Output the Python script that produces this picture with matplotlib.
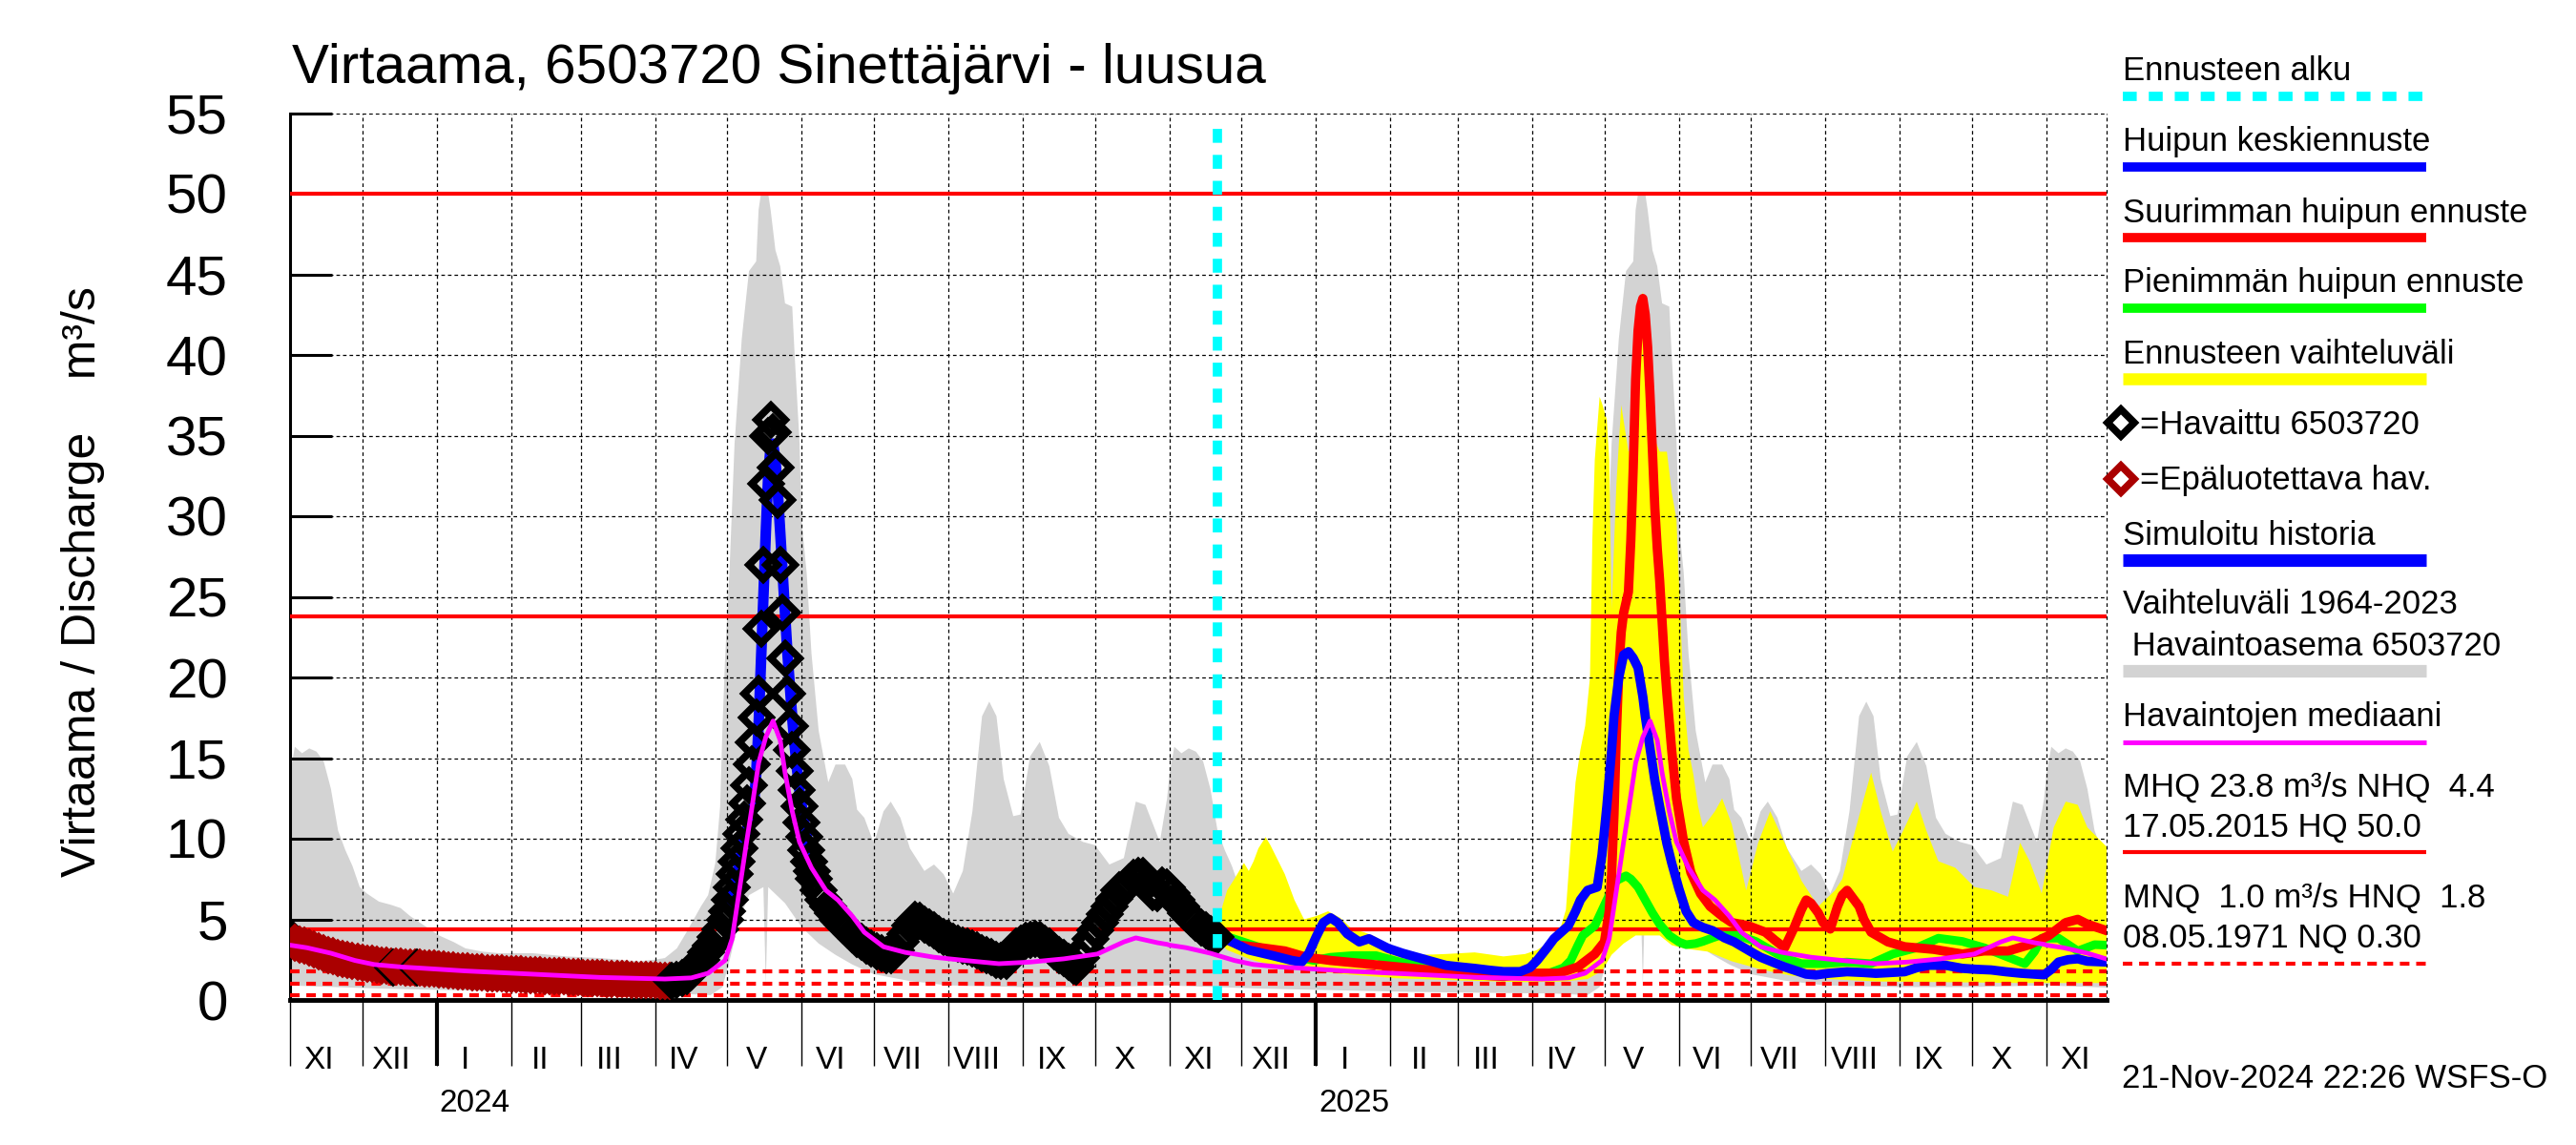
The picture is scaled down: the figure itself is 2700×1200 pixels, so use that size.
import numpy as np
import matplotlib
matplotlib.use("Agg")
import matplotlib.pyplot as plt
import matplotlib.dates as mdates
from matplotlib.lines import Line2D
from matplotlib.transforms import blended_transform_factory

plt.rcParams['font.family'] = ['Liberation Sans', 'DejaVu Sans']

# ---------------- data ----------------
T0 = np.datetime64('2023-11-01')        # day 0 of the day offsets below
T_END = np.datetime64('2025-11-26')
T_FC = np.datetime64('2024-11-21')      # forecast start

title = "Virtaama, 6503720 Sinettäjärvi - luusua"
ylabel = "Virtaama / Discharge    m³/s"
month_labels = ['XI', 'XII', 'I', 'II', 'III', 'IV', 'V', 'VI', 'VII', 'VIII', 'IX', 'X',
                'XI', 'XII', 'I', 'II', 'III', 'IV', 'V', 'VI', 'VII', 'VIII', 'IX', 'X', 'XI']
year_labels = ['2024', '2025']
stamp = "21-Nov-2024 22:26 WSFS-O"

HQ, MHQ, NHQ, HNQ, MNQ, NQ = 50.0, 23.8, 4.4, 1.8, 1.0, 0.30

# climatology 1964-2023 (calendar dates, season Nov..Oct)
clim_max_md = ['11-01', '11-03', '11-06', '11-09', '11-12', '11-15', '11-18', '11-21', '11-24', '11-27',
               '11-30', '12-03', '12-08', '12-13', '12-17', '12-21', '12-25', '12-29', '01-02', '01-08',
               '01-13', '01-20', '01-27', '02-03', '02-10', '02-17', '02-24', '03-02', '03-09', '03-17',
               '03-25', '04-01', '04-05', '04-10', '04-14', '04-17', '04-20', '04-23', '04-26', '04-28',
               '04-29', '04-30', '05-02', '05-04', '05-07', '05-10', '05-13', '05-14', '05-15', '05-18',
               '05-19', '05-21', '05-23', '05-25', '05-28', '05-29', '05-31', '06-01', '06-03', '06-05',
               '06-08', '06-12', '06-15', '06-19', '06-22', '06-24', '06-27', '07-01', '07-05', '07-08',
               '07-12', '07-16', '07-22', '07-26', '07-30', '08-03', '08-07', '08-11', '08-15', '08-18',
               '08-21', '08-24', '08-28', '08-31', '09-04', '09-08', '09-12', '09-16', '09-20', '09-26',
               '10-01', '10-07', '10-13', '10-18', '10-22', '10-28', '10-31']
clim_max = [14.0, 15.7, 15.3, 15.6, 15.4, 14.8, 13.1, 10.5, 9.3, 8.3,
            7.0, 6.6, 6.1, 5.9, 5.7, 5.2, 4.8, 4.4, 4.0, 3.6,
            3.2, 3.0, 2.9, 2.9, 2.9, 2.8, 2.7, 2.65, 2.6, 2.5,
            2.4, 2.5, 2.6, 3.2, 4.2, 5.0, 5.8, 6.5, 8.5, 12.0,
            17.0, 21.0, 27.0, 34.5, 41.0, 45.2, 45.8, 49.0, 50.0, 50.0,
            49.0, 46.5, 45.5, 43.2, 43.0, 40.0, 34.7, 29.5, 26.5, 21.5,
            16.7, 13.5, 14.6, 14.6, 13.7, 11.8, 11.3, 9.7, 11.7, 12.3,
            11.3, 9.4, 8.0, 8.4, 7.8, 6.6, 8.0, 11.7, 17.6, 18.5,
            17.6, 13.7, 11.4, 11.5, 15.1, 16.0, 14.5, 11.3, 10.3, 9.8,
            9.6, 8.4, 8.8, 12.3, 12.1, 9.8, 12.5]
clim_min_md = ['11-01', '11-20', '12-10', '01-10', '02-10', '03-10', '04-10', '04-24', '04-29', '05-02',
               '05-06', '05-10', '05-16', '05-17', '05-18', '05-25', '06-01', '06-08', '06-15', '06-22',
               '07-01', '07-15', '08-01', '09-01', '10-01', '10-31']
clim_min = [0.9, 0.8, 0.7, 0.6, 0.5, 0.45, 0.4, 0.3, 0.8, 2.5,
            5.0, 6.5, 7.0, 1.0, 7.0, 6.0, 4.5, 3.5, 2.8, 2.2,
            1.6, 1.2, 0.9, 0.8, 0.8, 0.9]
median_md = ['11-01', '11-08', '11-18', '11-28', '12-06', '12-17', '12-27', '01-13', '02-10', '03-09',
             '04-05', '04-16', '04-23', '04-30', '05-03', '05-06', '05-09', '05-11', '05-14', '05-17',
             '05-20', '05-23', '05-25', '05-28', '05-31', '06-05', '06-11', '06-16', '06-22', '06-27',
             '07-05', '07-14', '07-26', '08-08', '08-22', '09-04', '09-18', '10-02', '10-13', '10-18',
             '10-27', '10-31']
median_val = [3.4, 3.24, 2.9, 2.45, 2.2, 2.05, 1.96, 1.8, 1.6, 1.4,
              1.3, 1.37, 1.66, 2.45, 3.8, 6.8, 9.8, 11.7, 14.7, 16.3,
              17.3, 16.1, 14.1, 11.7, 9.8, 8.2, 6.8, 6.2, 5.2, 4.2,
              3.3, 2.95, 2.65, 2.45, 2.25, 2.35, 2.55, 2.85, 3.6, 3.85,
              3.55, 3.45]

# observations (day offsets from T0)
obs_ok_day = [0, 1, 43, 53,
              159, 161, 163, 165, 167, 169, 171, 173, 175, 177, 179, 181, 182, 183, 184, 185,
              186, 187, 188, 189, 190, 191, 192, 193, 194, 195, 196, 197, 198, 199, 200, 201,
              202, 203, 204, 205, 206, 207, 208, 209, 210, 211, 212, 213, 214, 215, 216, 217,
              218, 220, 222, 224, 226, 228, 230, 232, 234, 236, 238, 240, 242, 244, 246, 248,
              250, 252, 254, 256, 258, 260, 262, 264, 266, 268, 270, 272, 274, 276, 278, 280,
              282, 284, 286, 288, 290, 292, 294, 296, 298, 300, 302, 304, 306, 308, 310, 312,
              314, 316, 318, 320, 322, 324, 326, 327, 329, 331, 333, 335, 337, 339, 341, 343,
              345, 347, 349, 351, 353, 355, 357, 359, 361, 363, 365, 367, 369, 371, 373, 375,
              377, 379, 381, 383, 385]
obs_ok_val = [3.8, 3.7, 2.0, 2.0,
              1.2, 1.25, 1.35, 1.5, 1.75, 2.1, 2.5, 2.95, 3.4, 3.9, 4.4, 5.0, 5.5, 6.2, 7.0, 7.8,
              8.6, 9.4, 10.3, 11.2, 12.2, 13.3, 14.6, 16.0, 17.5, 19.0, 23.0, 27.0, 32.0, 35.0, 36.0, 35.2,
              33.0, 31.0, 27.0, 24.0, 21.2, 19.0, 17.0, 15.5, 14.2, 13.0, 12.0, 11.0, 10.1, 9.3, 8.6, 8.0,
              7.5, 6.8, 6.2, 5.8, 5.4, 5.0, 4.7, 4.4, 4.1, 3.8, 3.6, 3.4, 3.2, 3.0, 2.9, 2.8,
              2.8, 3.1, 3.6, 4.1, 4.6, 5.0, 4.9, 4.7, 4.5, 4.3, 4.1, 3.9, 3.8, 3.6, 3.5, 3.4,
              3.3, 3.2, 3.05, 2.9, 2.8, 2.65, 2.5, 2.4, 2.45, 2.9, 3.3, 3.5, 3.65, 3.75, 3.8, 3.7,
              3.5, 3.3, 3.0, 2.8, 2.6, 2.35, 2.15, 2.1, 2.6, 3.2, 3.8, 4.3, 4.8, 5.3, 5.8, 6.3,
              6.8, 6.9, 7.3, 7.6, 7.7, 7.7, 7.3, 6.7, 6.6, 7.1, 7.0, 6.6, 6.2, 5.8, 5.4, 5.1,
              4.8, 4.5, 4.3, 4.1, 3.9]
obs_bad_day = list(range(2, 159, 2))
obs_bad_val = [3.55, 3.45, 3.35, 3.25, 3.12, 3.0, 2.9, 2.8, 2.7, 2.62,
               2.55, 2.48, 2.42, 2.36, 2.3, 2.26, 2.22, 2.18, 2.15, 2.12,
               2.1, 2.08, 2.06, 2.04, 2.02, 2.0, 2.0, 1.98, 1.96, 1.94,
               1.9, 1.87, 1.84, 1.82, 1.8, 1.78, 1.76, 1.74, 1.72, 1.7,
               1.68, 1.66, 1.65, 1.63, 1.62, 1.6, 1.58, 1.57, 1.56, 1.55,
               1.54, 1.52, 1.5, 1.49, 1.47, 1.46, 1.45, 1.43, 1.42, 1.4,
               1.39, 1.38, 1.36, 1.35, 1.34, 1.32, 1.31, 1.3, 1.29, 1.28,
               1.27, 1.26, 1.25, 1.24, 1.23, 1.22, 1.21, 1.2, 1.2]

# simulated history (visible part)
sim_day = [183, 185, 187, 189, 191, 193, 194, 195, 196, 197, 198, 199, 200, 201, 202, 203, 204,
           205, 206, 207, 208, 209, 210, 211, 212, 214, 216, 218, 220]
sim_val = [5.8, 7.0, 8.5, 10.0, 11.0, 12.0, 14.0, 17.0, 21.0, 25.0, 29.0, 32.5, 34.3, 34.5, 33.5,
           31.5, 29.0, 26.5, 24.0, 21.5, 19.5, 17.5, 15.8, 14.3, 13.0, 11.0, 9.4, 8.2, 7.3]

# forecasts (day offsets from T0)
mean_day = [386, 392, 399, 409, 417, 421, 424, 427, 430, 433, 436, 440, 445, 449, 453, 457, 463, 469,
            475, 481, 487, 493, 499, 505, 512, 516, 519, 523, 526, 529, 532, 535, 537, 540, 544, 546,
            548, 550, 551, 553, 555, 557, 559, 561, 563, 564, 566, 568, 570, 573, 575, 578, 581, 584,
            588, 592, 597, 601, 605, 609, 612, 617, 622, 627, 631, 635, 640, 648, 655, 660, 666, 672,
            677, 682, 689, 696, 702, 708, 714, 720, 726, 730, 733, 736, 740, 744, 748, 756]
mean_val = [4.0, 3.6, 3.1, 2.75, 2.45, 2.35, 2.9, 3.9, 4.8, 5.1, 4.8, 4.1, 3.6, 3.8, 3.5, 3.2, 2.9, 2.65,
            2.4, 2.15, 2.05, 1.96, 1.85, 1.76, 1.76, 2.0, 2.45, 3.2, 3.8, 4.2, 4.6, 5.5, 6.2, 6.8, 7.0, 9.0,
            12.0, 15.5, 17.6, 20.0, 21.4, 21.6, 21.2, 20.6, 18.8, 17.6, 15.6, 13.6, 12.0, 9.7, 8.5, 6.9, 5.5, 4.8,
            4.5, 4.3, 3.85, 3.6, 3.25, 2.9, 2.65, 2.35, 2.05, 1.8, 1.6, 1.55, 1.65, 1.75, 1.7, 1.65, 1.7, 1.75,
            2.0, 2.15, 2.15, 1.96, 1.9, 1.86, 1.75, 1.66, 1.6, 1.56, 1.9, 2.35, 2.5, 2.55, 2.4, 2.35]
max_day = [386, 395, 404, 414, 423, 433, 447, 461, 481, 493, 505, 516, 528, 536, 543, 547, 549, 550,
           551, 552, 553, 554, 555, 557, 558, 559, 560, 561, 562, 563, 564, 565, 566, 567, 568, 569,
           570, 571, 572, 573, 575, 577, 580, 583, 587, 591, 596, 600, 607, 614, 618, 622, 626, 629,
           631, 633, 636, 638, 641, 644, 646, 648, 650, 653, 655, 658, 665, 672, 684, 696, 705, 715,
           724, 732, 739, 744, 748, 756]
max_val = [4.0, 3.4, 3.24, 3.04, 2.65, 2.45, 2.25, 2.05, 1.76, 1.56, 1.46, 1.66, 1.66, 2.05, 2.85, 3.6, 5.5, 7.8,
           11.5, 16.5, 20.5, 22.8, 24.0, 25.3, 28.5, 33.0, 38.5, 41.5, 43.0, 43.5, 42.5, 40.5, 37.5, 34.0, 30.5, 28.0,
           26.0, 23.5, 21.0, 19.0, 15.5, 12.5, 9.8, 7.9, 6.6, 5.8, 5.2, 4.8, 4.6, 4.2, 3.7, 3.24, 4.5, 5.6,
           6.2, 6.0, 5.4, 4.8, 4.4, 5.8, 6.5, 6.8, 6.4, 5.8, 5.0, 4.2, 3.6, 3.3, 3.14, 2.85, 3.04, 3.04,
           3.43, 4.0, 4.8, 5.0, 4.7, 4.3]
min_day = [386, 392, 404, 416, 426, 433, 442, 452, 462, 476, 493, 509, 524, 530, 533, 536, 538, 543,
           548, 552, 556, 558, 561, 564, 567, 570, 574, 578, 581, 585, 588, 592, 595, 603, 610, 615,
           619, 624, 629, 638, 648, 658, 667, 677, 686, 696, 705, 715, 722, 726, 729, 736, 744, 751, 756]
min_val = [4.1, 3.83, 3.24, 2.75, 2.45, 2.65, 2.75, 2.75, 2.35, 1.96, 1.66, 1.56, 1.66, 2.0, 2.45, 3.4, 4.0, 4.6,
           6.2, 7.4, 7.7, 7.5, 7.0, 6.2, 5.4, 4.7, 4.0, 3.6, 3.43, 3.5, 3.63, 3.85, 4.0, 4.0, 3.63, 3.2,
           2.85, 2.5, 2.25, 2.25, 2.35, 2.25, 2.85, 3.24, 3.83, 3.63, 3.24, 2.65, 2.25, 3.0, 3.83, 3.83, 3.04, 3.43, 3.4]
range_hi_day = [386, 388, 390, 393, 395, 397, 399, 401, 403, 406, 408, 410, 414, 418, 422, 427, 432, 437,
                442, 447, 452, 457, 464, 472, 481, 493, 505, 514, 519, 522, 526, 529, 531, 533, 535, 537,
                539, 541, 542, 543, 545, 546, 548, 549, 550, 552, 554, 557, 560, 561, 562, 563, 564, 565,
                566, 570, 573, 575, 577, 580, 582, 584, 586, 588, 593, 596, 600, 606, 611, 616, 622, 629,
                636, 643, 646, 650, 655, 658, 662, 667, 672, 677, 681, 686, 693, 701, 708, 715, 720, 724,
                729, 734, 739, 744, 748, 756]
range_hi = [4.6, 5.8, 6.8, 7.5, 8.0, 8.5, 8.0, 8.6, 9.4, 10.1, 9.6, 9.0, 7.8, 6.2, 5.0, 5.2, 5.5, 5.1,
            4.4, 4.2, 3.9, 3.4, 3.0, 2.8, 2.85, 2.95, 2.7, 2.85, 3.1, 3.4, 3.9, 4.6, 5.6, 9.75, 13.5, 15.5,
            17.0, 20.0, 28.6, 33.5, 37.4, 37.0, 36.0, 33.5, 24.2, 32.0, 36.9, 34.0, 34.7, 41.0, 43.2, 43.9, 43.0, 41.0,
            35.5, 34.0, 34.0, 31.5, 29.8, 18.8, 15.5, 14.0, 12.0, 10.7, 11.7, 12.5, 10.9, 6.8, 9.75, 11.7, 9.75, 7.4,
            5.8, 6.8, 7.5, 9.75, 12.5, 14.1, 11.7, 9.2, 10.7, 12.3, 10.5, 8.6, 8.2, 7.0, 6.8, 6.4, 9.75, 8.6,
            6.6, 10.7, 12.3, 12.1, 10.7, 9.5]
range_lo_day = [386, 390, 400, 410, 420, 435, 460, 490, 515, 530, 540, 546, 550, 555, 560, 570, 575, 580,
                590, 600, 612, 625, 640, 660, 690, 720, 756]
range_lo = [3.7, 3.1, 2.5, 2.1, 1.9, 1.65, 1.35, 1.2, 1.1, 1.15, 1.3, 1.8, 2.8, 3.5, 4.0, 4.0, 3.4, 3.2,
            3.0, 2.4, 1.9, 1.5, 1.3, 1.15, 1.1, 1.05, 1.05]

# ---------------- helpers ----------------
W, H = 2700, 1200


def num(d):
    return mdates.date2num(np.asarray(d, dtype='datetime64[s]'))


x0 = num(T0)


def day_x(days):
    return x0 + np.asarray(days, dtype=float)


def season_x(md_list):
    out = []
    for y in (2023, 2024, 2025):
        for md in md_list:
            yr = y if int(md[:2]) >= 11 else y + 1
            out.append(np.datetime64(f"{yr}-{md}"))
    return num(out)


def fx(px):
    return px / W


def fy(py):
    return 1 - py / H


C_GRAY = '#d3d3d3'
C_YEL = '#ffff00'
C_BLUE = '#0000ff'
C_RED = '#ff0000'
C_GREEN = '#00ff00'
C_MAG = '#ff00ff'
C_CYAN = '#00ffff'
C_DRED = '#aa0000'
GRID_LS = (0, (3, 2.5))
MS, MEW = 15.5, 5.5

# ---------------- figure ----------------
fig = plt.figure(figsize=(27, 12), dpi=100)
ax = fig.add_axes([fx(304), fy(1048), (2208 - 304) / W, (1048 - 118.5) / H])
ax.set_xlim(num(T0), num(T_END))
ax.set_ylim(0, 55)

# historical range
gx = np.concatenate([season_x(clim_max_md), season_x(clim_min_md)[::-1]])
gy = np.concatenate([np.tile(clim_max, 3), np.tile(clim_min, 3)[::-1]])
ax.fill(gx, gy, color=C_GRAY, lw=0, zorder=1)

# forecast range
yx = np.concatenate([day_x(range_hi_day), day_x(range_lo_day)[::-1]])
yy = np.concatenate([range_hi, np.asarray(range_lo)[::-1]])
ax.fill(yx, yy, color=C_YEL, lw=0, zorder=2)

# reference lines
for v in (HQ, MHQ, NHQ):
    ax.axhline(v, color=C_RED, lw=3, zorder=3)
for v in (HNQ, MNQ, NQ):
    ax.axhline(v, color=C_RED, lw=3, dashes=(2.4, 1.7), zorder=3)

# simulated history
ax.plot(day_x(sim_day), sim_val, color=C_BLUE, lw=8, zorder=4, solid_joinstyle='round')

# forecasts
ax.plot(day_x(min_day), min_val, color=C_GREEN, lw=6.5, zorder=4.1, solid_joinstyle='round')
ax.plot(day_x(max_day), max_val, color=C_RED, lw=7, zorder=4.2, solid_joinstyle='round')
ax.plot(day_x(mean_day), mean_val, color=C_BLUE, lw=7, zorder=4.3, solid_joinstyle='round')

# observations, drawn in chronological runs of equal quality
all_day = np.array(obs_ok_day + obs_bad_day, dtype=float)
all_val = np.array(obs_ok_val + obs_bad_val, dtype=float)
all_bad = np.array([False] * len(obs_ok_day) + [True] * len(obs_bad_day))
order = np.argsort(all_day, kind='stable')
all_day, all_val, all_bad = all_day[order], all_val[order], all_bad[order]
start = 0
z = 5.0
for i in range(1, len(all_day) + 1):
    if i == len(all_day) or all_bad[i] != all_bad[start]:
        col = C_DRED if all_bad[start] else 'black'
        ax.plot(day_x(all_day[start:i]), all_val[start:i], ls='none', marker='D', ms=MS,
                mfc='none', mec=col, mew=MEW, zorder=z)
        z += 0.01
        start = i

# median
ax.plot(season_x(median_md), np.tile(median_val, 3), color=C_MAG, lw=3.5, zorder=6)

# forecast start
ax.axvline(num(T_FC), ymax=0.99, color=C_CYAN, lw=7, dashes=(1.5, 1.3), zorder=7)

# axes styling
ax.set_axisbelow(False)
for s in ('top', 'right'):
    ax.spines[s].set_visible(False)
ax.spines['left'].set_linewidth(2.2)
ax.spines['bottom'].set_linewidth(3.5)
ax.axvline(num(T_END), color='black', lw=0.9, ls=GRID_LS, clip_on=False, zorder=2.5)

month_starts = np.arange(np.datetime64('2023-11'), np.datetime64('2025-12'), dtype='datetime64[M]')
ms_num = num(month_starts.astype('datetime64[D]'))
ax.set_xticks(ms_num)
ax.set_xticks(num([np.datetime64('2024-01-01'), np.datetime64('2025-01-01')]), minor=True)
ax.xaxis.remove_overlapping_locs = False
ax.tick_params(axis='x', which='major', direction='out', length=50, width=1.0, labelbottom=False)
ax.tick_params(axis='x', which='minor', direction='out', length=50, width=3.0, labelbottom=False)
ax.set_yticks(np.arange(0, 56, 5))
ax.tick_params(axis='y', direction='in', length=32, width=2.2, labelsize=42, pad=47)
ax.grid(True, which='major', color='black', linestyle=GRID_LS, linewidth=0.9)

tr = blended_transform_factory(ax.transData, fig.transFigure)
for m, lab in zip(ms_num, month_labels):
    ax.text(m + 12, fy(1120), lab, transform=tr, ha='center', va='baseline', fontsize=24)
for yl in year_labels:
    ax.text(num(np.datetime64(f"{yl}-01-01")) + 1, fy(1165), yl, transform=tr,
            ha='left', va='baseline', fontsize=24)

# titles
fig.text(fx(306), fy(87), title, fontsize=42, ha='left', va='baseline')
fig.text(fx(100), fy(610), ylabel, fontsize=36, rotation=90, rotation_mode='anchor',
         ha='center', va='baseline')
fig.text(fx(2224), fy(1140), stamp, fontsize=25, ha='left', va='baseline')

# legend (right side)
LX0, LX1 = 2225, 2543
FS = 25
legend_text = [
    ("Ennusteen alku", 84), ("Huipun keskiennuste", 158), ("Suurimman huipun ennuste", 233),
    ("Pienimmän huipun ennuste", 306), ("Ennusteen vaihteluväli", 381),
    ("Simuloitu historia", 571), ("Vaihteluväli 1964-2023", 643), (" Havaintoasema 6503720", 687),
    ("Havaintojen mediaani", 761), ("MHQ 23.8 m³/s NHQ  4.4", 835), ("17.05.2015 HQ 50.0", 877),
    ("MNQ  1.0 m³/s HNQ  1.8", 951), ("08.05.1971 NQ 0.30", 993),
]
for txt, base in legend_text:
    fig.text(fx(LX0), fy(base), txt, fontsize=FS, ha='left', va='baseline')
fig.text(fx(2243), fy(455), "=Havaittu 6503720", fontsize=FS, ha='left', va='baseline')
fig.text(fx(2243), fy(513), "=Epäluotettava hav.", fontsize=FS, ha='left', va='baseline')

legend_lines = [
    (101, C_CYAN, 7, (1.5, 1.3)), (175, C_BLUE, 7, None), (249, C_RED, 7, None),
    (323, C_GREEN, 7, None), (397, C_YEL, 9, None), (587, C_BLUE, 9.5, None),
    (703, C_GRAY, 9.5, None), (778, C_MAG, 3.6, None), (893, C_RED, 3, None),
    (1010, C_RED, 3, (2.4, 1.7)),
]
for yy_, col, lw, dash in legend_lines:
    kw = dict(color=col, lw=lw, transform=fig.transFigure, solid_capstyle='butt')
    if dash is not None:
        kw['dashes'] = dash
    fig.add_artist(Line2D([fx(LX0), fx(LX1)], [fy(yy_), fy(yy_)], **kw))
for yy_, col in ((443, 'black'), (502, C_DRED)):
    fig.add_artist(Line2D([fx(2223)], [fy(yy_)], ls='none', marker='D', ms=MS * 0.9, mfc='none',
                          mec=col, mew=MEW, transform=fig.transFigure))

fig.savefig('out.png', dpi=100)
